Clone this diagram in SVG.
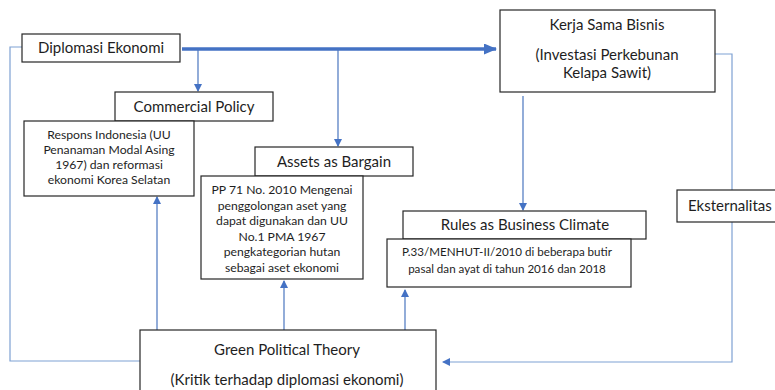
<svg xmlns="http://www.w3.org/2000/svg" width="775" height="390" viewBox="0 0 775 390">
<style>
  .box { fill: #ffffff; stroke: #262626; stroke-width: 1.2; }
  .t { font-family: Lato, "Open Sans", "Liberation Sans", sans-serif; fill: #1e1e1e; text-anchor: middle; }
  .h { font-size: 15px; }
  .s { font-size: 12.2px; }
  .s2 { font-size: 11.6px; }
  .ln { fill: none; stroke: #4a76bf; stroke-width: 1.2; }
  .loop { fill: none; stroke: #7ea1d3; stroke-width: 1.2; }
  .thick { fill: none; stroke: #4472c4; stroke-width: 3.5; }
</style>
<defs>
  <marker id="ah" markerWidth="8" markerHeight="8" refX="7" refY="4" orient="auto" markerUnits="userSpaceOnUse">
    <path d="M0,0 L8,4 L0,8 Z" fill="#4472c4"/>
  </marker>
  <marker id="ahb" markerWidth="13" markerHeight="11" refX="12" refY="5.5" orient="auto" markerUnits="userSpaceOnUse">
    <path d="M0,0 L13,5.5 L0,11 Z" fill="#4472c4"/>
  </marker>
</defs>
<rect width="775" height="390" fill="#ffffff"/>

<g id="connectors">
  <line class="thick" x1="182" y1="49" x2="496" y2="49" marker-end="url(#ahb)"/>
  <line class="ln" x1="198" y1="49" x2="198" y2="91" marker-end="url(#ah)"/>
  <line class="ln" x1="338" y1="49" x2="338" y2="146" marker-end="url(#ah)"/>
  <line class="ln" x1="523" y1="96" x2="523" y2="210" marker-end="url(#ah)"/>
  <polyline class="loop" points="22,47 10,47 10,361 140,361"/>
  <polyline class="loop" points="715,54 732,54 732,190"/>
  <polyline class="loop" points="732,222 732,362 443,362" marker-end="url(#ah)"/>
  <line class="ln" x1="157" y1="330" x2="157" y2="197" marker-end="url(#ah)"/>
  <line class="ln" x1="284" y1="330" x2="284" y2="281" marker-end="url(#ah)"/>
  <line class="ln" x1="405" y1="330" x2="405" y2="290" marker-end="url(#ah)"/>
</g>

<g id="diplomasi">
  <rect class="box" x="22" y="34" width="158" height="28"/>
  <text class="t h" x="101" y="53">Diplomasi Ekonomi</text>
</g>

<g id="kerja-sama">
  <rect class="box" x="500" y="10" width="215" height="82"/>
  <text class="t h" x="607" y="30">Kerja Sama Bisnis</text>
  <text class="t h" x="607" y="60">(Investasi Perkebunan</text>
  <text class="t h" x="607" y="78">Kelapa Sawit)</text>
</g>

<g id="commercial-policy">
  <rect class="box" x="115" y="92" width="158" height="29"/>
  <text class="t h" x="194" y="112">Commercial Policy</text>
</g>

<g id="respons">
  <rect class="box" x="24" y="121" width="170" height="75"/>
  <text class="t s" x="109" y="139">Respons Indonesia (UU</text>
  <text class="t s" x="109" y="154">Penanaman Modal Asing</text>
  <text class="t s" x="109" y="169">1967) dan reformasi</text>
  <text class="t s" x="109" y="184">ekonomi Korea Selatan</text>
</g>

<g id="assets">
  <rect class="box" x="255" y="147" width="158" height="29"/>
  <text class="t h" x="334" y="167">Assets as Bargain</text>
</g>

<g id="pp71">
  <rect class="box" x="201" y="176" width="162" height="103"/>
  <text class="t s" x="282" y="194">PP 71 No. 2010 Mengenai</text>
  <text class="t s" x="282" y="210">penggolongan aset yang</text>
  <text class="t s" x="282" y="225">dapat digunakan dan UU</text>
  <text class="t s" x="282" y="241">No.1 PMA 1967</text>
  <text class="t s" x="282" y="256">pengkategorian hutan</text>
  <text class="t s" x="282" y="272">sebagai aset ekonomi</text>
</g>

<g id="rules">
  <rect class="box" x="403" y="211" width="243" height="28"/>
  <text class="t h" x="525" y="230">Rules as Business Climate</text>
</g>

<g id="p33">
  <rect class="box" x="387" y="239" width="244" height="48"/>
  <text class="t s2" x="507" y="256">P.33/MENHUT-II/2010  di beberapa butir</text>
  <text class="t s2" x="507" y="273">pasal dan ayat di tahun 2016 dan 2018</text>
</g>

<g id="eksternalitas">
  <rect class="box" x="677" y="190" width="110" height="32"/>
  <text class="t h" x="688" y="211" style="text-anchor:start">Eksternalitas</text>
</g>

<g id="green-political-theory">
  <rect class="box" x="140" y="330" width="296" height="70"/>
  <text class="t h" x="287" y="355">Green Political Theory</text>
  <text class="t h" x="287" y="385">(Kritik terhadap diplomasi ekonomi)</text>
</g>
</svg>
